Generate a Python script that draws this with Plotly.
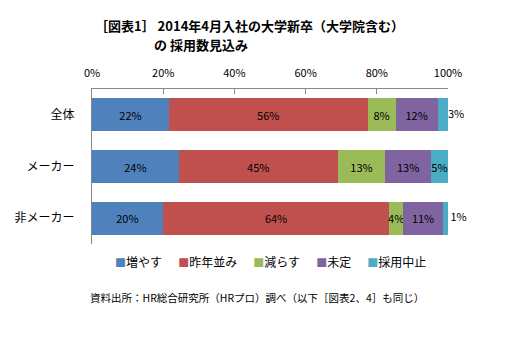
import plotly.graph_objects as go

categories = ["全体", "メーカー", "非メーカー"]
series_names = ["増やす", "昨年並み", "減らす", "未定", "採用中止"]
colors = ["#4F81BD", "#C0504D", "#9BBB59", "#8064A2", "#4BACC6"]
values = {
    "増やす":   [21.6, 24.4, 19.9],
    "昨年並み": [55.8, 44.6, 63.6],
    "減らす":   [7.9, 13.4, 3.9],
    "未定":     [11.8, 12.8, 11.2],
    "採用中止": [2.9, 4.8, 1.4],
}
# which end-segment labels sit outside the bar end (as in the original)
outside_label = [True, False, True]
tick_vals = [0, 20, 40, 60, 80, 100]
tick_text = ["0%", "20%", "40%", "60%", "80%", "100%"]

FONT = "Noto Sans CJK JP"
NB = "\u00a0"

fig = go.Figure()
last = series_names[-1]
for name, color in zip(series_names, colors):
    labels = [f"{v:.0f}%" for v in values[name]]
    if name == last:
        labels = ["" if o else l for l, o in zip(labels, outside_label)]
    fig.add_trace(go.Bar(
        y=categories, x=values[name], name=name, orientation="h",
        marker=dict(color=color, line=dict(width=0)),
        text=labels, textposition="inside", textangle=0,
        insidetextanchor="middle", constraintext="none",
        textfont=dict(family=FONT, size=11, color="#000000"),
        cliponaxis=False, showlegend=False,
    ))

# labels for the thin end segments, placed just past the bar ends
totals = [sum(values[n][i] for n in series_names) for i in range(len(categories))]
end_labels = [(NB if i == 2 else "") + f"{values[last][i]:.0f}%" if outside_label[i] else ""
              for i in range(len(categories))]
fig.add_trace(go.Scatter(
    x=totals, y=categories, mode="text", text=end_labels,
    textposition="middle right", textfont=dict(family=FONT, size=11, color="#000000"),
    showlegend=False, hoverinfo="skip", cliponaxis=False,
))

legend_text = (NB * 6).join(
    f"<span style='color:{c}; font-size:11px'>■</span>{n}" for n, c in zip(series_names, colors)
)

fig.update_layout(
    width=505, height=343,
    margin=dict(l=92, r=57, t=89, b=99),
    barmode="stack", bargap=0.36,
    plot_bgcolor="white", paper_bgcolor="white",
    font=dict(family=FONT, size=11, color="#000000"),
    xaxis=dict(side="top", range=[0, 100], tickvals=tick_vals, ticktext=tick_text,
               showgrid=False, zeroline=False, showline=True, linecolor="#868686",
               ticks="inside", ticklen=5, tickcolor="#868686", ticklabelstandoff=7,
               tickfont=dict(family=FONT, size=11)),
    yaxis=dict(autorange="reversed", showgrid=False, zeroline=False, showline=True,
               linecolor="#868686", ticks="", ticklabelstandoff=14,
               tickfont=dict(family=FONT, size=12)),
    annotations=[
        dict(text="<b>［図表1］ 2014年4月入社の大学新卒（大学院含む）</b>",
             xref="paper", yref="paper",
             x=0.003, y=1 + (89 - 26) / 155, xanchor="left", yanchor="middle", showarrow=False,
             font=dict(family=FONT, size=13)),
        dict(text="<b>の 採用数見込み</b>",
             xref="paper", yref="paper",
             x=(152 - 92) / 356, y=1 + (89 - 45) / 155, xanchor="left", yanchor="middle",
             showarrow=False, font=dict(family=FONT, size=13)),
        dict(text=legend_text, xref="paper", yref="paper",
             x=(270.5 - 92) / 356, y=-0.116, xanchor="center", yanchor="middle", showarrow=False,
             font=dict(family=FONT, size=12)),
        dict(text="資料出所：HR総合研究所（HRプロ）調べ（以下［図表2、4］も同じ）", xref="paper", yref="paper",
             x=-0.011, y=-0.348, xanchor="left", yanchor="middle", showarrow=False,
             font=dict(family=FONT, size=10.5)),
    ],
)

fig.write_html("out.html")
